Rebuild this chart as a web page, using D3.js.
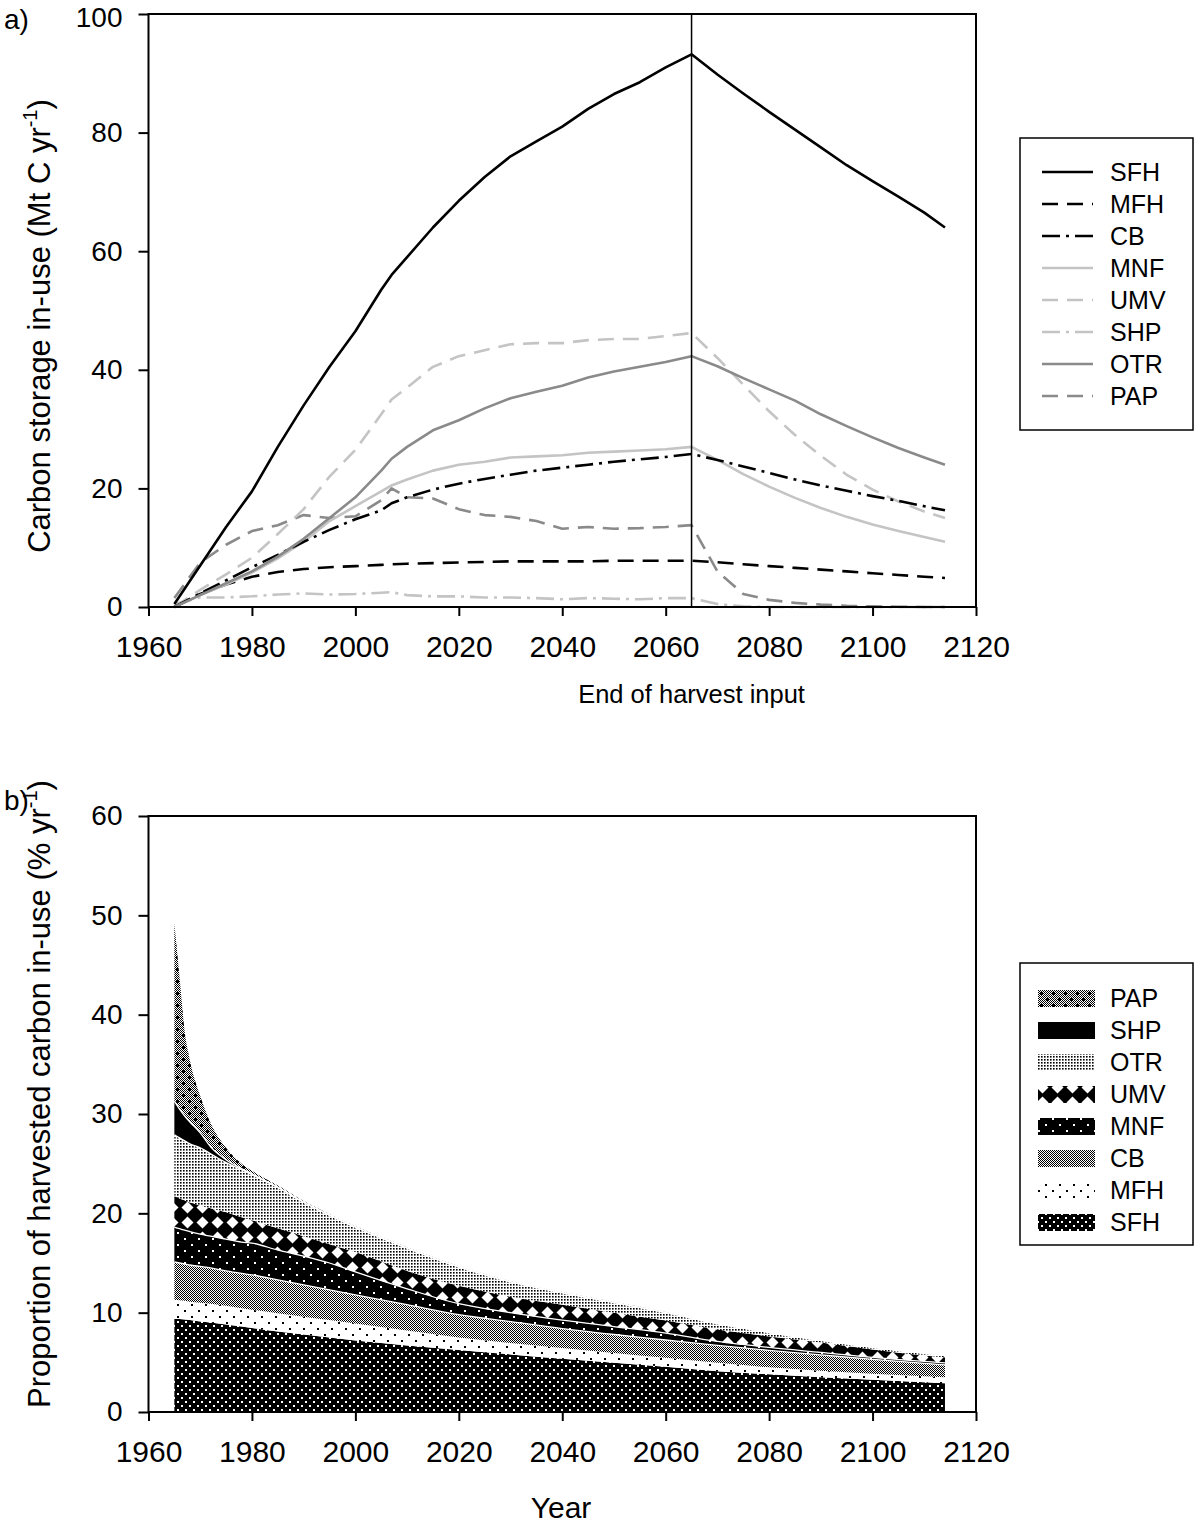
<!DOCTYPE html>
<html><head><meta charset="utf-8">
<script src="https://cdn.jsdelivr.net/npm/d3@7"></script>
<style>
body{margin:0;background:#fff}
text{font-family:"Liberation Sans",Arial,sans-serif;fill:#000}
</style>
</head><body>
<svg id="c" width="1200" height="1534"></svg>
<script>
// ---------- Panel a data ----------
const yearsA = [1965,1970,1975,1980,1985,1990,1995,2000,2005,2007,2010,2015,2020,2025,2030,2035,2040,2045,2050,2055,2060,2065,2070,2075,2080,2085,2090,2095,2100,2105,2110,2114];
const sfhA = [0.5,7,13.5,19.5,27,34,40.5,46.5,53.5,56,59,64,68.5,72.5,76,78.5,81,84,86.5,88.5,91,93.2,89.8,86.6,83.5,80.5,77.5,74.5,71.8,69.2,66.5,64];
const mfhA = [0,2.2,3.8,5.1,5.9,6.4,6.7,6.9,7.1,7.2,7.3,7.4,7.5,7.6,7.7,7.7,7.7,7.7,7.8,7.8,7.8,7.8,7.55,7.2,6.9,6.6,6.3,6.0,5.7,5.4,5.1,4.9];
const cbA = [0,2.3,4.5,6.7,8.8,11,13,14.8,16.3,17.5,18.5,19.8,20.8,21.6,22.3,23,23.5,24,24.5,24.9,25.3,25.8,24.8,23.7,22.6,21.5,20.5,19.6,18.7,17.9,17,16.3];
const mnfA = [0,2.0,3.8,5.8,8.2,11,14.5,17,19.5,20.5,21.5,23,24,24.5,25.2,25.4,25.6,26,26.2,26.4,26.6,27,24.8,22.4,20.3,18.4,16.7,15.2,13.9,12.8,11.8,11];
const umvA = [0,2.9,5.5,8.3,12.3,16.5,22,26.5,32.5,35,37,40.5,42.3,43.3,44.3,44.5,44.5,45,45.2,45.2,45.7,46.2,42,37.5,33,29,25.5,22.3,19.8,17.8,16.1,15];
const shpA = [0.5,1.6,1.6,1.8,2.1,2.3,2.1,2.2,2.4,2.5,2.0,1.8,1.8,1.6,1.6,1.5,1.3,1.5,1.4,1.3,1.5,1.5,0.5,0.1,0,0,0,0,0,0,0,0];
const otrA = [0,2.0,4.0,6.0,8.5,11.5,15,18.5,23,25,27,29.8,31.5,33.5,35.2,36.3,37.3,38.7,39.7,40.5,41.3,42.3,40.6,38.6,36.7,34.8,32.5,30.5,28.6,26.8,25.2,24];
const papA = [1.5,7.5,10.5,12.8,13.8,15.5,15,15.3,18,20,18.5,18.3,16.5,15.5,15.2,14.5,13.2,13.5,13.2,13.3,13.5,13.8,6,2.2,1.2,0.7,0.4,0.2,0.1,0.05,0,0];
const namesA = ["SFH","MFH","CB","MNF","UMV","SHP","OTR","PAP"];
const xTicks = [1960,1980,2000,2020,2040,2060,2080,2100,2120];
const yTicksA = [0,20,40,60,80,100];
const endYear = 2065;

// ---------- Panel b data (layer thickness, % yr-1) ----------
const yearsB = [1965,1966,1967,1968,1970,1972,1975,1978,1980,1985,1990,1995,2000,2010,2020,2030,2040,2050,2060,2070,2080,2090,2100,2110,2114];
const sfhB = [9.4,9.35,9.3,9.25,9.1,9.0,8.8,8.6,8.45,8.1,7.8,7.5,7.2,6.7,6.25,5.8,5.35,4.95,4.55,4.1,3.8,3.5,3.25,3.0,2.9];
const mfhB = [1.9,1.9,1.9,1.85,1.9,1.9,1.9,1.85,1.85,1.85,1.8,1.75,1.7,1.5,1.25,1.15,1.1,1.0,0.9,0.85,0.7,0.65,0.6,0.6,0.6];
const cbB = [3.8,3.75,3.7,3.7,3.65,3.6,3.5,3.5,3.5,3.35,3.2,3.05,2.9,2.6,2.3,2.15,1.95,1.85,1.8,1.75,1.7,1.6,1.45,1.3,1.25];
const mnfB = [3.5,3.45,3.4,3.35,3.25,3.2,3.2,3.15,3.2,3.0,2.9,2.7,2.3,1.6,1.1,0.9,0.85,0.8,0.7,0.4,0.3,0.25,0.2,0.2,0.2];
const umvB = [3.15,3.05,3.0,2.95,2.9,2.8,2.7,2.5,2.3,2.2,2.0,1.9,2.0,1.8,1.8,1.6,1.55,1.4,1.25,1.2,1.1,1.0,0.8,0.6,0.55];
const otrB = [6.15,6.1,6.0,5.9,5.8,5.5,5.0,4.8,4.6,4.1,3.4,2.9,2.5,2.3,1.9,1.5,1.2,1.0,0.8,0.6,0.4,0.2,0.2,0.2,0.2];
const shpB = [3.4,2.9,2.5,2.2,1.5,0.7,0.3,0.1,0.08,0.05,0.04,0.04,0.03,0.03,0.03,0.03,0.03,0.03,0.03,0,0,0,0,0,0];
const papB = [17.9,13.3,8.5,6.2,3.7,2.4,1.2,0.5,0.3,0.15,0.1,0.08,0.06,0.05,0.05,0.04,0.04,0.04,0.04,0,0,0,0,0,0];
const namesB = ["SFH","MFH","CB","MNF","UMV","OTR","SHP","PAP"];
const yTicksB = [0,10,20,30,40,50,60];

// ---------- setup ----------
const svg = d3.select("#c");
const FSX = 30, FSY = 28, FST = 31;
const x = d3.scaleLinear().domain([1960,2120]).range([148.5,976]);
const yA = d3.scaleLinear().domain([0,100]).range([607,14]);
const yB = d3.scaleLinear().domain([0,60]).range([1412,816]);

function drawAxes(y, yTicks, top, bottom){
  const gx = svg.append("g").attr("transform",`translate(0,${bottom})`)
    .call(d3.axisBottom(x).tickValues(xTicks).tickSize(9).tickSizeOuter(0).tickPadding(20).tickFormat(d3.format("d")));
  gx.select(".domain").remove();
  gx.selectAll("line").attr("stroke","#000").attr("stroke-width",2);
  gx.selectAll("text").attr("font-size",FSX).style("font-family",'"Liberation Sans",Arial,sans-serif');
  const gy = svg.append("g").attr("transform",`translate(148.5,0)`)
    .call(d3.axisLeft(y).tickValues(yTicks).tickSize(10).tickSizeOuter(0).tickPadding(16));
  gy.select(".domain").remove();
  gy.selectAll("line").attr("stroke","#000").attr("stroke-width",2);
  gy.selectAll("text").attr("font-size",FSY).style("font-family",'"Liberation Sans",Arial,sans-serif');
  // keep the topmost label inside the page
  gy.selectAll("text").filter(d=>y(d) < 30).attr("dy","0.45em");
  svg.append("rect").attr("x",148.5).attr("y",top).attr("width",976-148.5).attr("height",bottom-top)
    .attr("fill","none").attr("stroke","#000").attr("stroke-width",2);
}

// ---------- Panel a ----------
const styleA = {
  SFH:{c:"#000",d:null}, MFH:{c:"#000",d:"16,9"}, CB:{c:"#000",d:"18,6,3,6"},
  MNF:{c:"#c4c4c4",d:null}, UMV:{c:"#c4c4c4",d:"16,9"}, SHP:{c:"#c4c4c4",d:"18,6,3,6"},
  OTR:{c:"#8a8a8a",d:null}, PAP:{c:"#8a8a8a",d:"16,9"}
};
const valsA = {SFH:sfhA,MFH:mfhA,CB:cbA,MNF:mnfA,UMV:umvA,SHP:shpA,OTR:otrA,PAP:papA};
const lineA = d3.line().x(d=>x(d[0])).y(d=>yA(d[1]));
const drawOrder = ["SHP","MFH","PAP","MNF","UMV","CB","OTR","SFH"];
drawOrder.forEach(n=>{
  const pts = yearsA.map((yr,i)=>[yr,valsA[n][i]]);
  svg.append("path").attr("d",lineA(pts)).attr("fill","none")
    .attr("stroke",styleA[n].c).attr("stroke-width",2.6).attr("stroke-linejoin","round")
    .attr("stroke-dasharray",styleA[n].d);
});
svg.append("line").attr("x1",x(endYear)).attr("x2",x(endYear)).attr("y1",yA(100)).attr("y2",yA(0))
  .attr("stroke","#000").attr("stroke-width",1.5);
drawAxes(yA, yTicksA, 14, 607);

// legend a
svg.append("rect").attr("x",1020).attr("y",138).attr("width",173).attr("height",292)
  .attr("fill","none").attr("stroke","#000").attr("stroke-width",1.5);
namesA.forEach((n,i)=>{
  const yy = 172 + i*32;
  svg.append("line").attr("x1",1042).attr("x2",1093).attr("y1",yy).attr("y2",yy)
    .attr("stroke",styleA[n].c).attr("stroke-width",2.6).attr("stroke-dasharray",styleA[n].d);
  svg.append("text").attr("x",1110).attr("y",yy+9).attr("font-size",25).text(n);
});

// texts panel a
svg.append("text").attr("x",4).attr("y",29).attr("font-size",FSY).text("a)");
const ta = svg.append("text").attr("transform","translate(50,326) rotate(-90)").attr("text-anchor","middle").attr("font-size",FST);
ta.append("tspan").text("Carbon storage in-use (Mt C yr");
ta.append("tspan").attr("font-size",20).attr("dy",-13).text("-1");
ta.append("tspan").attr("dy",13).text(")");
svg.append("text").attr("x",x(endYear)).attr("y",703).attr("text-anchor","middle").attr("font-size",25.5).text("End of harvest input");

// ---------- Panel b ----------
const defs = svg.append("defs");
function pat(id,w,h,fn){ const p = defs.append("pattern").attr("id",id).attr("patternUnits","userSpaceOnUse").attr("width",w).attr("height",h); fn(p); }
pat("pSFH",8,8,p=>{ p.append("rect").attr("width",8).attr("height",8).attr("fill","#000");
  p.append("rect").attr("x",1).attr("y",1).attr("width",2).attr("height",2).attr("fill","#fff");
  p.append("rect").attr("x",5).attr("y",5).attr("width",2).attr("height",2).attr("fill","#fff"); });
pat("pMFH",14,12,p=>{ p.append("rect").attr("width",14).attr("height",12).attr("fill","#fff");
  p.append("rect").attr("x",2).attr("y",2).attr("width",2).attr("height",2).attr("fill","#000");
  p.append("rect").attr("x",9).attr("y",8).attr("width",2).attr("height",2).attr("fill","#000"); });
pat("pCB",2,2,p=>{ p.append("rect").attr("width",2).attr("height",2).attr("fill","#fff");
  p.append("rect").attr("width",1).attr("height",1).attr("fill","#000");
  p.append("rect").attr("x",1).attr("y",1).attr("width",1).attr("height",1).attr("fill","#000"); });
pat("pMNF",14,12,p=>{ p.append("rect").attr("width",14).attr("height",12).attr("fill","#000");
  p.append("rect").attr("x",2).attr("y",2).attr("width",2).attr("height",2).attr("fill","#fff");
  p.append("rect").attr("x",9).attr("y",8).attr("width",2).attr("height",2).attr("fill","#fff"); });
pat("pUMV",15,15,p=>{ p.append("rect").attr("width",15).attr("height",15).attr("fill","#000");
  p.append("path").attr("d","M7.5,1.5 L13.5,7.5 L7.5,13.5 L1.5,7.5 Z").attr("fill","#fff"); });
pat("pOTR",3,3,p=>{ p.append("rect").attr("width",3).attr("height",3).attr("fill","#fff");
  p.append("rect").attr("width",1.6).attr("height",1.6).attr("fill","#000"); });
pat("pSHP",4,4,p=>{ p.append("rect").attr("width",4).attr("height",4).attr("fill","#000"); });
pat("pPAP",12,12,p=>{ p.append("rect").attr("width",12).attr("height",12).attr("fill","url(#pCB)");
  p.append("path").attr("d","M2,3h3v1h-3z M3,2h1v3h-1z M8,9h3v1h-3z M9,8h1v3h-1z").attr("fill","#000"); });

const valsB = {SFH:sfhB,MFH:mfhB,CB:cbB,MNF:mnfB,UMV:umvB,OTR:otrB,SHP:shpB,PAP:papB};
const tableB = yearsB.map((yr,i)=>{ const o={year:yr}; namesB.forEach(n=>o[n]=valsB[n][i]); return o; });
const stack = d3.stack().keys(namesB)(tableB);
const area = d3.area().x(d=>x(d.data.year)).y0(d=>yB(d[0])).y1(d=>yB(d[1])).curve(d3.curveMonotoneX);
const topLine = d3.line().x(d=>x(d.data.year)).y(d=>yB(d[1])).curve(d3.curveMonotoneX);
stack.forEach(s=>{
  svg.append("path").attr("d",area(s)).attr("fill",`url(#p${s.key})`).attr("stroke","none");
});
stack.forEach(s=>{
  if(["CB","MNF","OTR","SHP"].includes(s.key)){
    svg.append("path").attr("d",topLine(s)).attr("fill","none").attr("stroke","#fff").attr("stroke-width",1.3);
  }
});
drawAxes(yB, yTicksB, 816, 1412);

// legend b
svg.append("rect").attr("x",1020).attr("y",963).attr("width",173).attr("height",282)
  .attr("fill","none").attr("stroke","#000").attr("stroke-width",1.5);
namesB.slice().reverse().forEach((n,i)=>{
  const yy = 998 + i*32;
  svg.append("rect").attr("x",1038).attr("y",yy-8).attr("width",57).attr("height",17).attr("fill",`url(#p${n})`);
  svg.append("text").attr("x",1110).attr("y",yy+9).attr("font-size",25).text(n);
});

svg.append("text").attr("x",4).attr("y",810).attr("font-size",FSY).text("b)");
const tb = svg.append("text").attr("transform","translate(50,1094) rotate(-90)").attr("text-anchor","middle").attr("font-size",FST);
tb.append("tspan").text("Proportion of harvested carbon in-use (% yr");
tb.append("tspan").attr("font-size",20).attr("dy",-13).text("-1");
tb.append("tspan").attr("dy",13).text(")");
svg.append("text").attr("x",561).attr("y",1518).attr("text-anchor","middle").attr("font-size",30).text("Year");
</script>
</body></html>
